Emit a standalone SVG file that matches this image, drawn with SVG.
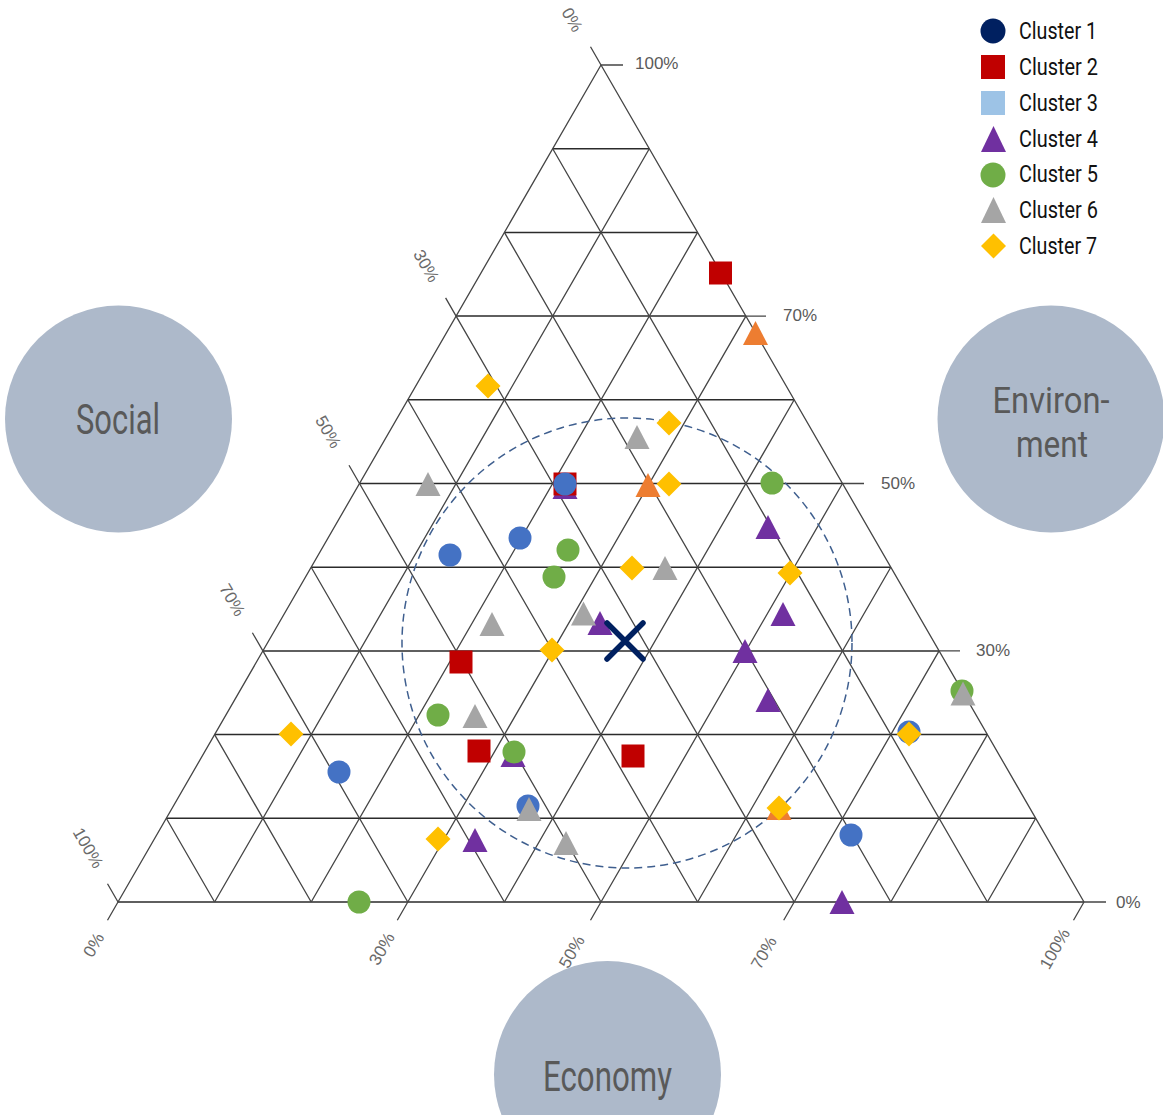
<svg xmlns="http://www.w3.org/2000/svg" xmlns:xlink="http://www.w3.org/1999/xlink" width="1163" height="1115" viewBox="0 0 1163 1115">
<style>
.hz{stroke:#2b2b2b;stroke-width:1.5;fill:none}
.sl{stroke:#454545;stroke-width:1.3;fill:none}
.tk{stroke:#454545;stroke-width:1.3;fill:none}
.ax{font-family:"Liberation Sans",Arial,sans-serif;font-size:17px;fill:#5a5a5a}
.axr{font-family:"Liberation Sans",Arial,sans-serif;font-size:17px;fill:#6a6a6a;text-anchor:middle;dominant-baseline:central}
.bub{fill:#adb9ca}
.bt{font-family:Roboto,"Liberation Sans",sans-serif;font-size:42px;fill:#595959;text-anchor:middle}
.bt2{font-family:Roboto,"Liberation Sans",sans-serif;font-size:37px;fill:#595959;text-anchor:middle}
.lg{font-family:Roboto,"Liberation Sans",sans-serif;font-size:23px;fill:#111}
.c1{fill:#002060}.c2{fill:#c00000}.c3{fill:#9dc3e6}.c4{fill:#7030a0}.c5{fill:#70ad47}.c6{fill:#a5a5a5}.c7{fill:#ffc000}.cb{fill:#4472c4}.co{fill:#ed7d31}
</style>
<defs>
<circle id="mc" r="11.5"/>
<rect id="ms" x="-11.5" y="-11.5" width="23" height="23"/>
<path id="mt" d="M0,-12 L12.5,12 L-12.5,12 Z"/>
<path id="md" d="M0,-12.5 L12.5,0 L0,12.5 L-12.5,0 Z"/>
</defs>
<rect width="1163" height="1115" fill="#fff"/>

<g id="bubbles">
<g id="social"><circle class="bub" cx="118.5" cy="419" r="113.5"/><text class="bt" x="118" y="434" textLength="84" lengthAdjust="spacingAndGlyphs">Social</text></g>
<g id="environment"><circle class="bub" cx="1051" cy="419" r="113.5"/><text class="bt2" x="1051" y="413" textLength="117" lengthAdjust="spacingAndGlyphs">Environ-</text><text class="bt2" x="1052" y="457" textLength="72" lengthAdjust="spacingAndGlyphs">ment</text></g>
<g id="economy"><circle class="bub" cx="607.5" cy="1074.5" r="113.5"/><text class="bt" x="607.5" y="1091" textLength="129" lengthAdjust="spacingAndGlyphs">Economy</text></g>
</g>

<g id="grid">
<path class="hz" d="M552.7 148.7H649.3M504.4 232.4H697.6M456.1 316.1H745.9M407.8 399.8H794.2M359.5 483.5H842.5M311.2 567.2H890.8M262.9 650.9H939.1M214.6 734.6H987.4M166.3 818.3H1035.7M118 902H1084"/>
<path class="sl" d="M601 65L118 902M649.3 148.7L214.6 902M697.6 232.4L311.2 902M745.9 316.1L407.8 902M794.2 399.8L504.4 902M842.5 483.5L601 902M890.8 567.2L697.6 902M939.1 650.9L794.2 902M987.4 734.6L890.8 902M1035.7 818.3L987.4 902"/>
<path class="sl" d="M601 65L1084 902M552.7 148.7L987.4 902M504.4 232.4L890.8 902M456.1 316.1L794.2 902M407.8 399.8L697.6 902M359.5 483.5L601 902M311.2 567.2L504.4 902M262.9 650.9L407.8 902M214.6 734.6L311.2 902M166.3 818.3L214.6 902"/>
<path class="tk" d="M601 65H623M745.9 316.1H766M842.5 483.5H864M939.1 650.9H960M1084 902H1106"/>
<path class="tk" d="M601 65L590.5 46.8M456.1 316.1L445.6 297.9M359.5 483.5L349 465.3M262.9 650.9L252.4 632.7M118 902L107.5 883.8"/>
<path class="tk" d="M118 902L107.5 920.2M407.8 902L397.3 920.2M601 902L590.5 920.2M794.2 902L783.7 920.2M1084 902L1073.5 920.2"/>
</g>

<g id="axis-labels">
<text class="ax" x="635" y="69">100%</text>
<text class="ax" x="783" y="321">70%</text>
<text class="ax" x="881" y="489">50%</text>
<text class="ax" x="976" y="656">30%</text>
<text class="ax" x="1116" y="908">0%</text>
<text class="axr" x="572" y="20" transform="rotate(60 572 20)">0%</text>
<text class="axr" x="426" y="266" transform="rotate(60 426 266)">30%</text>
<text class="axr" x="328" y="432" transform="rotate(60 328 432)">50%</text>
<text class="axr" x="232" y="600" transform="rotate(60 232 600)">70%</text>
<text class="axr" x="88" y="848" transform="rotate(60 88 848)">100%</text>
<text class="axr" x="94" y="945" transform="rotate(-60 94 945)">0%</text>
<text class="axr" x="382" y="949" transform="rotate(-60 382 949)">30%</text>
<text class="axr" x="572" y="952" transform="rotate(-60 572 952)">50%</text>
<text class="axr" x="764" y="953" transform="rotate(-60 764 953)">70%</text>
<text class="axr" x="1055" y="949" transform="rotate(-60 1055 949)">100%</text>
</g>

<circle id="range-circle" cx="627" cy="643" r="225" fill="none" stroke="#3f5f8f" stroke-width="1.5" stroke-dasharray="8 5"/>

<g id="points">
<use href="#mt" class="c4" x="565" y="487"/>
<use href="#ms" class="c2" x="565" y="484"/>
<use href="#mc" class="cb" x="565" y="484"/>
<use href="#ms" class="c2" x="720.5" y="273"/>
<use href="#ms" class="c2" x="461" y="662"/>
<use href="#ms" class="c2" x="479" y="751"/>
<use href="#ms" class="c2" x="633" y="756"/>
<use href="#mt" class="co" x="755.5" y="333"/>
<use href="#mt" class="co" x="648" y="485"/>
<use href="#mt" class="co" x="779" y="808"/>
<use href="#mc" class="cb" x="520" y="538"/>
<use href="#mc" class="cb" x="450" y="555"/>
<use href="#mc" class="cb" x="339" y="772"/>
<use href="#mc" class="cb" x="528" y="806"/>
<use href="#mc" class="cb" x="909" y="732"/>
<use href="#mc" class="cb" x="851" y="835"/>
<use href="#mt" class="c4" x="768" y="527"/>
<use href="#mt" class="c4" x="783" y="614"/>
<use href="#mt" class="c4" x="600" y="623"/>
<use href="#mt" class="c4" x="745" y="651"/>
<use href="#mt" class="c4" x="768" y="700"/>
<use href="#mt" class="c4" x="513" y="755"/>
<use href="#mt" class="c4" x="475" y="840"/>
<use href="#mt" class="c4" x="842" y="902"/>
<use href="#mc" class="c5" x="772" y="483"/>
<use href="#mc" class="c5" x="568" y="550"/>
<use href="#mc" class="c5" x="554" y="577"/>
<use href="#mc" class="c5" x="438" y="715"/>
<use href="#mc" class="c5" x="514" y="752"/>
<use href="#mc" class="c5" x="962" y="691"/>
<use href="#mc" class="c5" x="359" y="902"/>
<use href="#mt" class="c6" x="637" y="437"/>
<use href="#mt" class="c6" x="428" y="484"/>
<use href="#mt" class="c6" x="665" y="568"/>
<use href="#mt" class="c6" x="583.5" y="613.5"/>
<use href="#mt" class="c6" x="492" y="624"/>
<use href="#mt" class="c6" x="475" y="716"/>
<use href="#mt" class="c6" x="529" y="809"/>
<use href="#mt" class="c6" x="566" y="843"/>
<use href="#mt" class="c6" x="963" y="693.5"/>
<use href="#md" class="c7" x="488" y="386"/>
<use href="#md" class="c7" x="669" y="423"/>
<use href="#md" class="c7" x="669" y="484"/>
<use href="#md" class="c7" x="632" y="568"/>
<use href="#md" class="c7" x="790" y="573"/>
<use href="#md" class="c7" x="552" y="650"/>
<use href="#md" class="c7" x="291" y="734"/>
<use href="#md" class="c7" x="909" y="734"/>
<use href="#md" class="c7" x="779" y="808"/>
<use href="#md" class="c7" x="438" y="839"/>
</g>

<g id="centroid"><path d="M607 623L643 659M643 623L607 659" stroke="#002060" stroke-width="5.5" stroke-linecap="round"/></g>

<g id="legend">
<g id="lg1"><circle class="c1" cx="993" cy="31" r="12.5"/><text class="lg" x="1019" y="39" textLength="78" lengthAdjust="spacingAndGlyphs">Cluster 1</text></g>
<g id="lg2"><rect class="c2" x="981" y="55" width="24" height="24"/><text class="lg" x="1019" y="75" textLength="79" lengthAdjust="spacingAndGlyphs">Cluster 2</text></g>
<g id="lg3"><rect class="c3" x="981" y="91" width="24" height="24"/><text class="lg" x="1019" y="111" textLength="79" lengthAdjust="spacingAndGlyphs">Cluster 3</text></g>
<g id="lg4"><path class="c4" d="M993.5 126L1006 152L981 152Z"/><text class="lg" x="1019" y="147" textLength="79" lengthAdjust="spacingAndGlyphs">Cluster 4</text></g>
<g id="lg5"><circle class="c5" cx="993" cy="175" r="12.5"/><text class="lg" x="1019" y="182" textLength="79" lengthAdjust="spacingAndGlyphs">Cluster 5</text></g>
<g id="lg6"><path class="c6" d="M993.5 197L1006 223L981 223Z"/><text class="lg" x="1019" y="218" textLength="79" lengthAdjust="spacingAndGlyphs">Cluster 6</text></g>
<g id="lg7"><path class="c7" d="M993.5 233.5L1006 246L993.5 258.5L981 246Z"/><text class="lg" x="1019" y="254" textLength="78" lengthAdjust="spacingAndGlyphs">Cluster 7</text></g>
</g>
</svg>
